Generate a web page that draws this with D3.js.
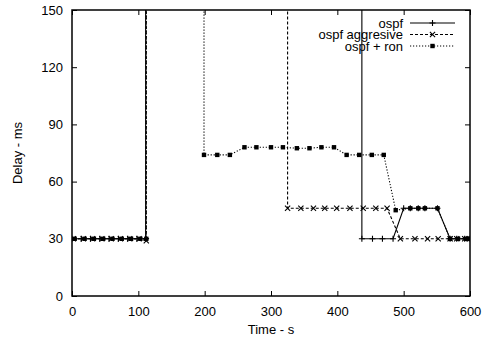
<!DOCTYPE html>
<html><head><meta charset="utf-8">
<script src="https://cdn.jsdelivr.net/npm/d3@7"></script>
<style>
body{margin:0;background:#fff}
svg text{font-family:"Liberation Sans",Arial,Helvetica,sans-serif;font-size:13px;fill:#000}
</style>
</head><body>
<svg id="chart" width="485" height="341"></svg>
<script>
// ---- data (values above 150 are timeouts, drawn off-scale) ----
const ospfTime  = [0,14,28,42,56,70,84,98,111,114,140,170,200,230,260,290,320,350,380,410,436,437,453,468,484,500,510,522,532,551,570,580,592,600];
const ospfDelay = [30,30,30,30,30,30,30,30,30,20000,20000,20000,20000,20000,20000,20000,20000,20000,20000,20000,20000,30,30,30,30,46,46,46,46,46,30,30,30,30];

const aggrTime  = [2,17,31,45,59,73,87,101,112,113,140,170,200,230,260,290,324,325,345,364,381,399,419,439,458,475,495,517,536,552,570,580,592,600];
const aggrDelay = [30,30,30,30,30,30,30,30,29,20000,20000,20000,20000,20000,20000,20000,20000,46,46,46,46,46,46,46,46,46,30,30,30,30,30,30,30,30];

const ronTime  = [4,19,33,47,61,75,89,103,112,113,140,170,198,199,219,238,260,278,300,318,339,358,376,395,414,433,452,470,488,510,522,532,551,570,582,594,600];
const ronDelay = [30,30,30,30,30,30,30,30,30,20000,20000,20000,20000,74,74,74,78,78,78,78,77.5,77.5,78,78,74,74,74,74,45,46,46,46,46,30,30,30,30];

const seriesNames = ["ospf","ospf aggresive","ospf + ron"];
const xTicks = [0,100,200,300,400,500,600];
const yTicks = [0,30,60,90,120,150];
const xTitle = "Time - s";
const yTitle = "Delay - ms";

// ---- chart ----
const svg = d3.select("#chart");
const L = 72, R = 470, T = 10, B = 296;
const x = d3.scaleLinear().domain([0,600]).range([L,R]);
const y = d3.scaleLinear().domain([0,150]).range([B,T]);

svg.append("rect").attr("width",485).attr("height",341).attr("fill","#fff");

svg.append("defs").append("clipPath").attr("id","plotclip")
  .append("rect").attr("x",L).attr("y",T).attr("width",R-L).attr("height",B-T);

function styleAxis(g, hideText){
  g.select(".domain").remove();
  g.selectAll(".tick line").attr("stroke","#000").attr("stroke-width",1);
  g.selectAll(".tick text").attr("font-family",null).attr("font-size",null).attr("fill","#000");
  if(hideText) g.selectAll(".tick text").remove();
}

svg.append("g").attr("transform",`translate(0,${B})`)
  .call(d3.axisBottom(x).tickValues(xTicks).tickSizeInner(-5).tickSizeOuter(0).tickPadding(11))
  .call(g=>styleAxis(g,false));
svg.append("g").attr("transform",`translate(0,${T})`)
  .call(d3.axisTop(x).tickValues(xTicks).tickSizeInner(-5).tickSizeOuter(0))
  .call(g=>styleAxis(g,true));
svg.append("g").attr("transform",`translate(${L},0)`)
  .call(d3.axisLeft(y).tickValues(yTicks).tickSizeInner(-5).tickSizeOuter(0).tickPadding(9))
  .call(g=>styleAxis(g,false));
svg.append("g").attr("transform",`translate(${R},0)`)
  .call(d3.axisRight(y).tickValues(yTicks).tickSizeInner(-5).tickSizeOuter(0))
  .call(g=>styleAxis(g,true));

// series
const series = [
  {name:seriesNames[0], t:ospfTime, v:ospfDelay, dash:null, marker:"plus"},
  {name:seriesNames[1], t:aggrTime, v:aggrDelay, dash:"3,2", marker:"cross"},
  {name:seriesNames[2], t:ronTime,  v:ronDelay,  dash:"1.2,1.8", marker:"square"}
];

const line = d3.line().x(d=>x(d[0])).y(d=>y(d[1]));
const plot = svg.append("g").attr("clip-path","url(#plotclip)");

function drawMarker(g, type, cx, cy){
  if(type==="plus"){
    g.append("path").attr("d",`M${cx-3},${cy}H${cx+3}M${cx},${cy-3}V${cy+3}`)
      .attr("stroke","#000").attr("stroke-width",1.1).attr("fill","none");
  } else if(type==="cross"){
    g.append("path").attr("d",`M${cx-2.6},${cy-2.6}L${cx+2.6},${cy+2.6}M${cx-2.6},${cy+2.6}L${cx+2.6},${cy-2.6}`)
      .attr("stroke","#000").attr("stroke-width",1.1).attr("fill","none");
  } else {
    g.append("rect").attr("x",cx-2.2).attr("y",cy-2.2).attr("width",4.4).attr("height",4.4).attr("fill","#000");
  }
}

series.forEach(s=>{
  const pts = s.t.map((t,i)=>[t,s.v[i]]);
  plot.append("path").datum(pts).attr("d",line)
    .attr("fill","none").attr("stroke","#000").attr("stroke-width",1.1)
    .attr("stroke-dasharray",s.dash);
  const mg = plot.append("g");
  pts.forEach(p=>{ if(p[1]<=150) drawMarker(mg, s.marker, x(p[0]), y(p[1])); });
});

// frame
svg.append("rect").attr("x",L).attr("y",T).attr("width",R-L).attr("height",B-T)
  .attr("fill","none").attr("stroke","#000").attr("stroke-width",1.5);

// legend
const legY = [23,34.5,46];
series.forEach((s,i)=>{
  const g = svg.append("g");
  g.append("text").attr("x",403).attr("y",legY[i]).attr("dy","0.35em").attr("text-anchor","end").text(s.name);
  g.append("line").attr("x1",410).attr("x2",455).attr("y1",legY[i]).attr("y2",legY[i])
    .attr("stroke","#000").attr("stroke-width",1.1).attr("stroke-dasharray",s.dash);
  drawMarker(g, s.marker, 432.5, legY[i]);
});

// titles
svg.append("text").attr("x",(L+R)/2).attr("y",334).attr("text-anchor","middle").text(xTitle);
svg.append("text").attr("transform","translate(22,153) rotate(-90)").attr("text-anchor","middle").text(yTitle);
</script>
</body></html>
